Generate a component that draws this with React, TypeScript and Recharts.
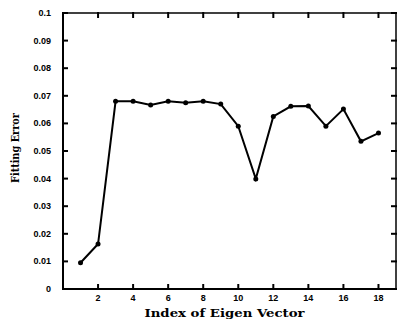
import React from 'react';
import { LineChart, Line, XAxis, YAxis } from 'recharts';

// значения
const eigenIndex = [1, 2, 3, 4, 5, 6, 7, 8, 9, 10, 11, 12, 13, 14, 15, 16, 17, 18];
const fittingError = [
  0.0095, 0.0163, 0.068, 0.068, 0.0667, 0.068, 0.0675, 0.068, 0.067,
  0.059, 0.0399, 0.0625, 0.0662, 0.0663, 0.059, 0.0652, 0.0535, 0.0565,
];
const xTicks = [2, 4, 6, 8, 10, 12, 14, 16, 18];
const yTicks = [0, 0.01, 0.02, 0.03, 0.04, 0.05, 0.06, 0.07, 0.08, 0.09, 0.1];

const data = eigenIndex.map((idx, i) => ({ idx, err: fittingError[i] }));

const tickFont = { fontFamily: '"Liberation Sans", Arial, sans-serif', fontWeight: 700, fontSize: 9 };
const labelFont = { fontFamily: '"DejaVu Serif", "Liberation Serif", serif', fontWeight: 700 };
const TL = 5; // длина засечек внутрь

const fmtY = (v: number) => (v === 0 ? '0' : String(Number(v.toFixed(2))));

const BottomTick = (p: any) => (
  <g>
    <path d={`M${p.x},${p.y + 1}V${p.y - TL}`} stroke="#000" strokeWidth={2} fill="none" />
    <text x={p.x} y={p.y + 12} textAnchor="middle" fill="#000" style={tickFont}>
      {p.payload.value}
    </text>
  </g>
);

const TopTick = (p: any) => (
  <path d={`M${p.x},${p.y - 1}V${p.y + TL}`} stroke="#000" strokeWidth={2} fill="none" />
);

const LeftTick = (p: any) => (
  <g>
    <path d={`M${p.x - 1},${p.y}H${p.x + TL}`} stroke="#000" strokeWidth={2} fill="none" />
    <text x={p.x - 12} y={p.y + 3} textAnchor="end" fill="#000" style={tickFont}>
      {fmtY(p.payload.value)}
    </text>
  </g>
);

const RightTick = (p: any) => (
  <path d={`M${p.x + 1},${p.y}H${p.x - TL}`} stroke="#000" strokeWidth={2} fill="none" />
);

const XLabel = (p: any) => {
  const vb = p.viewBox;
  return (
    <text
      x={vb.x + vb.width / 2 - 5}
      y={vb.y + 28}
      textAnchor="middle"
      fill="#000"
      fontSize={11}
      textLength={160}
      lengthAdjust="spacingAndGlyphs"
      style={labelFont}
    >
      Index of Eigen Vector
    </text>
  );
};

const YLabel = (p: any) => {
  const vb = p.viewBox;
  const cx = 19;
  const cy = vb.y + vb.height / 2 - 3;
  return (
    <text
      x={cx}
      y={cy}
      transform={`rotate(-90 ${cx} ${cy})`}
      textAnchor="middle"
      fill="#000"
      fontSize={11}
      textLength={70}
      lengthAdjust="spacingAndGlyphs"
      style={labelFont}
    >
      Fitting Error
    </text>
  );
};

export default function App() {
  return (
    <div style={{ position: 'absolute', left: 0, top: 0, width: 397, height: 320, background: '#fff' }}>
      <LineChart width={397} height={320} data={data} margin={{ top: 0, right: 0, bottom: 0, left: 0 }}>
        <XAxis
          dataKey="idx"
          type="number"
          domain={[0, 19]}
          ticks={xTicks}
          height={31}
          tickLine={false}
          tickSize={0}
          tickMargin={0}
          axisLine={{ stroke: '#000', strokeWidth: 2 }}
          tick={BottomTick}
          label={<XLabel />}
        />
        <XAxis
          xAxisId="top"
          dataKey="idx"
          orientation="top"
          type="number"
          domain={[0, 19]}
          ticks={xTicks}
          height={13}
          tickLine={false}
          tickSize={0}
          tickMargin={0}
          axisLine={{ stroke: '#000', strokeWidth: 1.5 }}
          tick={TopTick}
        />
        <YAxis
          type="number"
          domain={[0, 0.1]}
          ticks={yTicks}
          width={63}
          tickLine={false}
          tickSize={0}
          tickMargin={0}
          axisLine={{ stroke: '#000', strokeWidth: 2 }}
          tick={LeftTick}
          label={<YLabel />}
        />
        <YAxis
          yAxisId="right"
          orientation="right"
          type="number"
          domain={[0, 0.1]}
          ticks={yTicks}
          width={1}
          tickLine={false}
          tickSize={0}
          tickMargin={0}
          axisLine={{ stroke: '#000', strokeWidth: 1.5 }}
          tick={RightTick}
        />
        {/* невидимая линия, чтобы верхняя и правая оси отрисовались */}
        <Line
          xAxisId="top"
          yAxisId="right"
          dataKey="err"
          stroke="none"
          dot={false}
          activeDot={false}
          isAnimationActive={false}
        />
        <Line
          dataKey="err"
          stroke="#000"
          strokeWidth={2}
          dot={{ r: 2.5, fill: '#000', stroke: '#000', strokeWidth: 0 }}
          isAnimationActive={false}
        />
      </LineChart>
    </div>
  );
}
